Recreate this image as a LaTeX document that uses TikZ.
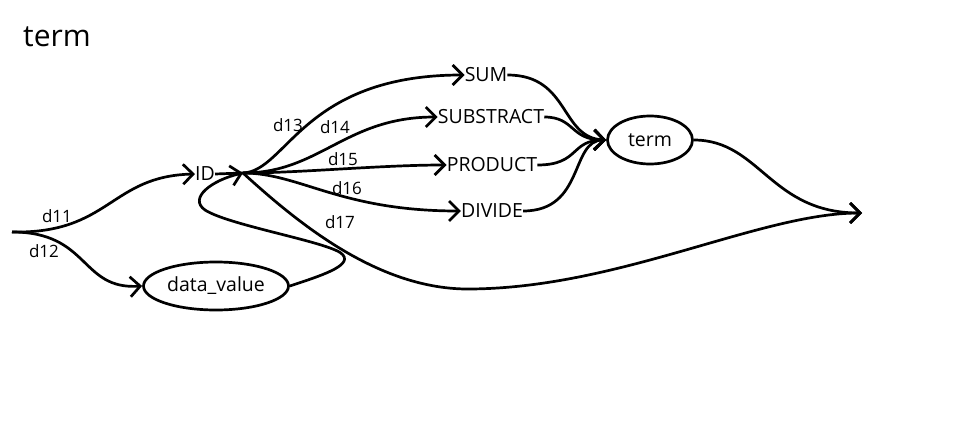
\documentclass[tikz,border=0pt]{standalone}
\usepackage{fontspec}
\setmainfont{Open Sans}
\usetikzlibrary{positioning}
\usetikzlibrary{shapes.geometric}
\usetikzlibrary{arrows.meta}

\tikzset{
  word/.style={inner sep=0pt, font=\fontsize{19.5}{22}\selectfont},
  oval/.style={ellipse, draw, line width=2.7pt, inner sep=0pt, font=\fontsize{19.5}{22}\selectfont},
  lbl/.style={inner sep=0pt, font=\fontsize{17}{20}\selectfont},
  wire/.style={line width=2.7pt},
  arr/.style={wire, -{Straight Barb[length=10pt,width=20pt]}}
}

\begin{document}
\begin{tikzpicture}[x=1pt, y=-1pt]
  \useasboundingbox (0,0) rectangle (968,420);
  \node[inner sep=0pt, font=\fontsize{30}{35}\selectfont] (title) at (57,37) {term};

  \coordinate (start) at (12,232);
  \coordinate (idhub) at (243,173);
  \coordinate (stop) at (862,213);
  \node[word] (id) at (205,174) {ID};
  \node[oval, minimum width=145pt, minimum height=48pt] (dv) at (216,286) {data\_value};
  \node[word] (sum) at (486,75) {SUM};
  \node[word] (sub) at (491,117) {SUBSTRACT};
  \node[word] (prod) at (492,165) {PRODUCT};
  \node[word] (div) at (492,211) {DIVIDE};
  \node[oval, minimum width=85pt, minimum height=48pt] (term) at (650,140) {term};

  % labels
  \node[lbl] (l11) at (57,216) {d11};
  \node[lbl] (l12) at (44,251) {d12};
  \node[lbl] (l13) at (288,125) {d13};
  \node[lbl] (l14) at (335,127) {d14};
  \node[lbl] (l15) at (343,159) {d15};
  \node[lbl] (l16) at (347,188) {d16};
  \node[lbl] (l17) at (340,222) {d17};

  % into ID and data_value
  \draw[arr] (start) .. controls (110,234) and (110,176) .. (id.west);
  \draw[arr] (start) .. controls (90,232) and (80,290) .. (dv.west);
  \draw[wire] (id.east) -- (idhub);
  \draw[arr] (dv.east) .. controls (320,276) and (352,266) .. (343,255)
    .. controls (335,243) and (230,226) .. (205,210)
    .. controls (188,198) and (212,180) .. (idhub);

  % from ID
  \draw[arr] (idhub) .. controls (287,171) and (303,75) .. (sum.west);
  \draw[arr] (idhub) .. controls (320,173) and (345,117) .. (sub.west);
  \draw[arr] (idhub) .. controls (300,173) and (380,165) .. (prod.west);
  \draw[arr] (idhub) .. controls (300,173) and (340,211) .. (div.west);
  \draw[arr] (idhub) .. controls (300,225) and (380,290) .. (470,289)
    .. controls (620,288) and (760,213) .. (stop);

  % into term
  \draw[arr] (sum.east) .. controls (570,75) and (560,138) .. (term.west);
  \draw[arr] (sub.east) .. controls (575,117) and (570,140) .. (term.west);
  \draw[arr] (prod.east) .. controls (580,165) and (570,140) .. (term.west);
  \draw[arr] (div.east) .. controls (585,211) and (570,140) .. (term.west);
  \draw[arr] (term.east) .. controls (760,140) and (770,213) .. (stop);
\end{tikzpicture}
\end{document}
